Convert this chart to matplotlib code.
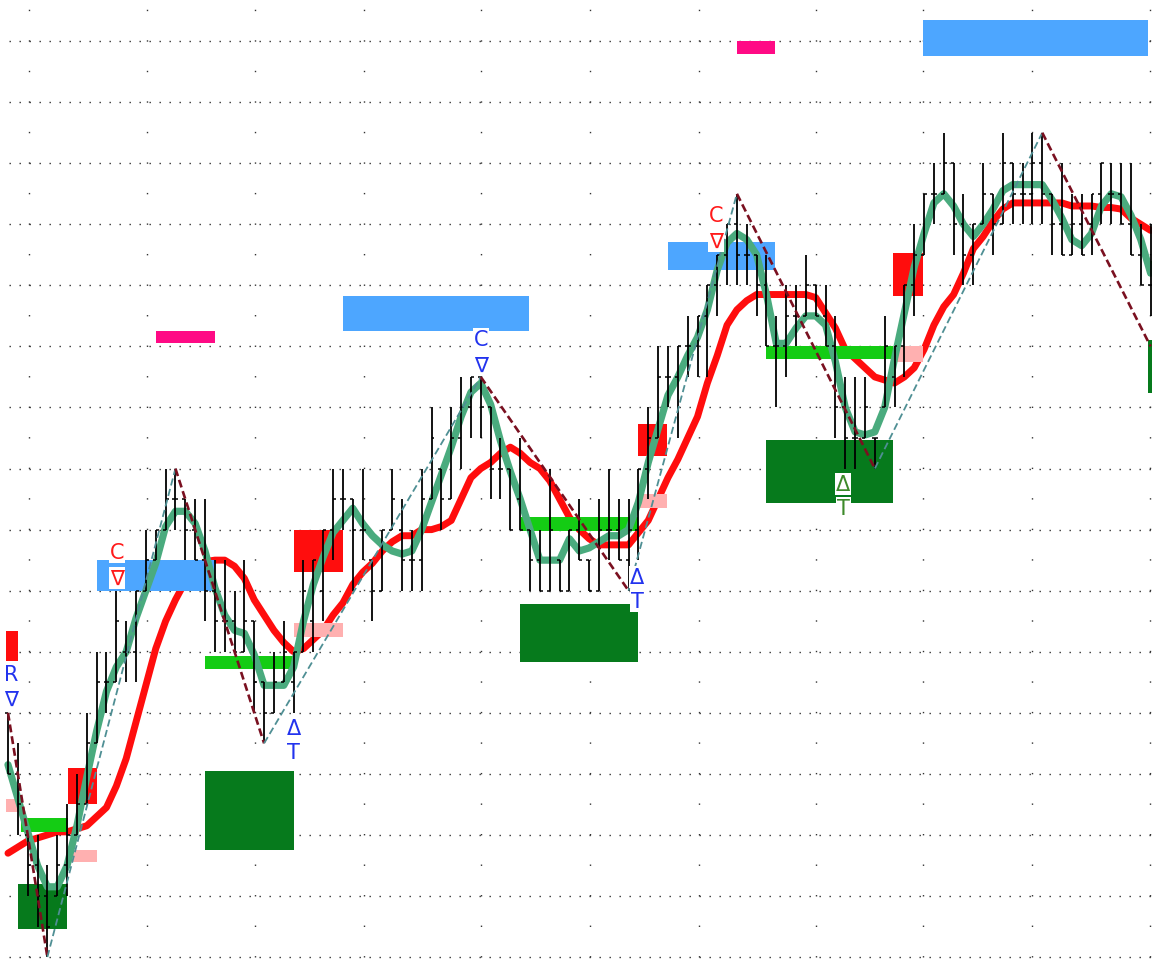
import matplotlib.pyplot as plt
from matplotlib.patches import Rectangle

# OHLC bars, price in half-grid steps
highs = [8, 7, 4, 4, 3, 4, 5, 6, 8, 10, 10, 12, 11, 12, 14, 14, 16, 16, 15, 15,
         15, 13, 13, 12, 13, 11, 9, 10, 11, 10, 13, 13, 14, 16, 16, 15, 16, 13, 14, 16,
         15, 14, 16, 18, 16, 18, 19, 19, 19, 18, 17, 16, 17, 14, 14, 16, 13, 14, 15, 13,
         15, 16, 15, 15, 16, 18, 20, 20, 20, 21, 21, 22, 23, 24, 25, 24, 23, 23, 21, 22,
         22, 23, 22, 22, 21, 19, 19, 19, 17, 21, 20, 22, 24, 25, 26, 27, 26, 25, 24, 26,
         25, 27, 26, 26, 27, 27, 25, 26, 25, 25, 25, 26, 26, 26, 26, 24, 24]
lows = [6, 4, 2, 1, 0, 2, 2, 4, 5, 7, 8, 9, 9, 9, 12, 13, 14, 14, 13, 13,
        11, 10, 10, 10, 10, 8, 7, 8, 9, 8, 10, 10, 11, 13, 14, 12, 13, 11, 12, 14,
        12, 12, 12, 15, 14, 15, 16, 17, 17, 15, 15, 14, 14, 12, 12, 12, 12, 12, 13, 12,
        12, 13, 13, 12, 13, 15, 17, 18, 17, 19, 19, 19, 21, 22, 22, 22, 21, 20, 18, 19,
        20, 21, 21, 20, 17, 16, 16, 17, 16, 18, 18, 19, 21, 23, 24, 25, 23, 22, 22, 24,
        23, 24, 24, 24, 24, 24, 23, 23, 23, 23, 23, 24, 24, 24, 23, 22, 21]
opens = [8, 6, 4, 3, 2, 2, 3, 4, 5, 7, 9, 9, 10, 10, 12, 13, 14, 15, 15, 14,
         13, 12, 11, 11, 10, 11, 9, 8, 9, 9, 10, 11, 12, 14, 15, 15, 14, 13, 12, 14,
         14, 13, 13, 15, 16, 15, 17, 18, 19, 18, 16, 16, 15, 14, 13, 12, 13, 12, 14, 13,
         12, 14, 14, 13, 14, 16, 17, 19, 19, 20, 20, 21, 22, 23, 24, 23, 23, 22, 20, 20,
         21, 21, 22, 21, 20, 18, 17, 17, 17, 18, 19, 20, 22, 23, 25, 25, 26, 24, 23, 24,
         25, 24, 26, 25, 25, 26, 25, 24, 23, 24, 24, 25, 25, 25, 24, 23, 22]
closes = [6, 5, 3, 2, 1, 3, 4, 5, 7, 9, 9, 11, 10, 12, 13, 14, 15, 15, 14, 13,
          12, 11, 11, 10, 11, 9, 8, 9, 10, 10, 12, 13, 14, 15, 15, 14, 14, 12, 14, 15,
          13, 13, 15, 17, 15, 17, 18, 19, 18, 16, 16, 14, 14, 13, 12, 14, 12, 14, 13, 12,
          14, 14, 13, 14, 16, 17, 19, 19, 20, 20, 21, 22, 23, 24, 23, 23, 22, 20, 20, 21,
          21, 22, 21, 20, 18, 17, 17, 18, 17, 20, 20, 22, 23, 25, 25, 26, 24, 23, 24, 25,
          24, 26, 25, 25, 26, 25, 24, 23, 24, 23, 25, 26, 25, 24, 23, 22, 22]

# fast and slow averages
fast_ma = [6.3, 5.2, 4.1, 3.0, 2.3, 2.3, 3.0, 4.3, 5.9, 7.4, 8.7, 9.5, 10.0, 11.1, 12.0, 12.9,
           14.1, 14.6, 14.6, 14.2, 13.3, 12.1, 11.2, 10.7, 10.6, 9.9, 8.9, 8.9, 8.9, 9.5,
           11.0, 12.2, 13.1, 13.9, 14.3, 14.7, 14.2, 13.8, 13.5, 13.3, 13.2, 13.3, 14.0,
           14.9, 15.8, 16.7, 17.7, 18.5, 18.8, 18.1, 16.9, 15.9, 15.0, 14.0, 13.0, 13.0,
           13.0, 13.7, 13.3, 13.4, 13.6, 13.8, 13.8, 14.0, 14.9, 16.2, 17.3, 18.4, 19.0,
           19.7, 20.3, 21.2, 22.5, 23.4, 23.7, 23.5, 23.0, 21.7, 20.1, 20.1, 20.6, 21.0,
           21.0, 20.7, 19.5, 18.0, 17.2, 17.1, 17.2, 18.0, 19.6, 21.1, 22.6, 23.7, 24.7,
           25.0, 24.6, 24.0, 23.6, 24.0, 24.5, 25.1, 25.3, 25.3, 25.3, 25.3, 24.8, 24.2,
           23.5, 23.3, 23.7, 24.6, 25.0, 24.9, 24.3, 23.5, 22.4]
slow_ma = [3.4, 3.6, 3.8, 3.9, 4.0, 4.1, 4.1, 4.2, 4.3, 4.6, 4.9, 5.6, 6.5, 7.7, 8.9, 10.1,
           11.0, 11.7, 12.3, 12.7, 12.95, 13.0, 13.0, 12.8, 12.4, 11.7, 11.2, 10.7, 10.3,
           10.0, 10.1, 10.4, 10.7, 11.2, 11.6, 12.2, 12.6, 12.9, 13.3, 13.6, 13.8, 13.8,
           14.0, 14.0, 14.1, 14.3, 15.0, 15.7, 16.0, 16.2, 16.5, 16.7, 16.5, 16.2, 16.0,
           15.6, 15.0, 14.4, 14.0, 13.7, 13.5, 13.5, 13.5, 13.5, 13.9, 14.3, 15.0, 15.7,
           16.3, 17.0, 17.7, 18.8, 19.7, 20.7, 21.2, 21.5, 21.7, 21.7, 21.7, 21.7, 21.7,
           21.7, 21.6, 21.1, 20.6, 19.9, 19.6, 19.3, 19.0, 18.9, 18.8, 19.0, 19.3, 19.9,
           20.7, 21.3, 21.7, 22.4, 23.2, 23.6, 24.1, 24.5, 24.7, 24.7, 24.7, 24.7, 24.7,
           24.7, 24.6, 24.6, 24.6, 24.55, 24.55, 24.5, 24.2, 24.0, 23.8]

# zigzag swing points (bar, price)
swing_bars = [0, 4, 17, 26, 48, 63, 74, 88, 105, 116]
swing_prices = [8, 0, 16, 7, 19, 12, 25, 16, 27, 20]

# zones: left bar, right bar, bottom, top
blue_zones = [(9.0, 21.0, 12.0, 13.0), (34.0, 52.9, 20.5, 21.65),
              (67.0, 77.9, 22.5, 23.42), (92.9, 115.7, 29.51, 30.69)]
magenta_zones = [(15.0, 21.0, 20.1, 20.5), (74.0, 77.9, 29.58, 30.0)]
red_zones = [(-0.2, 1.0, 9.7, 10.68), (6.1, 9.0, 5.0, 6.2), (29.0, 34.0, 12.6, 14.0),
             (64.0, 66.9, 16.4, 17.45), (89.8, 92.9, 21.65, 23.06)]
pink_zones = [(-0.2, 1.0, 4.75, 5.17), (6.1, 9.0, 3.11, 3.5), (29.0, 34.0, 10.48, 10.94),
              (64.0, 66.9, 14.7, 15.17), (89.8, 92.9, 19.5, 20.0)]
green_zones = [(1.3, 6.1, 4.1, 4.55), (20.0, 29.0, 9.43, 9.86), (52.1, 64.0, 13.95, 14.4),
               (77.0, 89.8, 19.6, 20.0), (115.7, 117.0, 22.3, 22.8)]
dkgreen_zones = [(1.0, 6.0, 0.92, 2.4), (20.0, 29.0, 3.5, 6.1), (52.0, 64.0, 9.66, 11.56),
                 (77.0, 89.8, 14.87, 16.93), (115.7, 117.0, 18.47, 20.2)]

# signal labels: bar, price, text, colour
labels = [(11.07, 13.27, "C", "#ff1a1a"), (11.07, 12.41, "\u2207", "#ff1a1a"),
          (48.0, 20.24, "C", "#2233ee"), (48.0, 19.39, "\u2207", "#2233ee"),
          (71.9, 24.3, "C", "#ff1a1a"), (71.9, 23.45, "\u2207", "#ff1a1a"),
          (29.0, 7.5, "\u0394", "#2233ee"), (29.0, 6.7, "T", "#2233ee"),
          (63.9, 12.45, "\u0394", "#2233ee"), (63.9, 11.66, "T", "#2233ee"),
          (84.8, 15.5, "\u0394", "#3d8a2a"), (84.8, 14.7, "T", "#3d8a2a"),
          (0.3, 9.27, "R", "#2233ee"), (0.3, 8.45, "\u2207", "#2233ee")]

vgrid = [2.1, 14.1, 25.1, 36.1, 48.0, 59.1, 70.2, 82.0, 92.9, 104.0, 115.9]

fig = plt.figure(figsize=(11.52, 9.62), dpi=100)
ax = fig.add_axes([0, 0, 1, 1])
ax.set_xlim(-0.81, 116.14)
ax.set_ylim(-0.13, 31.38)
ax.axis("off")

# dotted grid: dots every 10 px across, every half step down
for y in range(0, 32, 2):
    ax.plot([0.1, 117], [y, y], color="#333333", lw=1.0, linestyle=(0, (1, 6.2)), zorder=1)
for x in vgrid:
    ax.plot([x, x], [0, 31.5], color="#333333", lw=1.0, linestyle=(0, (1, 20.98)), zorder=1)

ax.plot(range(len(slow_ma)), slow_ma, color="#ff0d0d", lw=5.0, zorder=2,
        solid_joinstyle="round", solid_capstyle="round")

def add_zones(zones, color):
    for x0, x1, y0, y1 in zones:
        ax.add_patch(Rectangle((x0, y0), x1 - x0, y1 - y0, facecolor=color,
                               edgecolor="none", zorder=3))

add_zones(blue_zones, "#4da6ff")
add_zones(magenta_zones, "#ff0a85")
add_zones(red_zones, "#ff0d0d")
add_zones(pink_zones, "#ffb0b0")
add_zones(green_zones, "#14cc14")
add_zones(dkgreen_zones, "#067a1c")

ax.plot(range(len(fast_ma)), fast_ma, color="#4aab7e", lw=5.2, zorder=4,
        solid_joinstyle="round", solid_capstyle="round")

# OHLC bars
idx = list(range(len(highs)))
ax.vlines(idx, lows, highs, color="black", lw=1.3, zorder=5)
ax.hlines(opens, [i - 0.3 for i in idx], idx, color="black", lw=1.1, zorder=5)
ax.hlines(closes, idx, [i + 0.3 for i in idx], color="black", lw=1.1, zorder=5)

# zigzag legs: down legs dark red, up legs teal
for k in range(len(swing_bars) - 1):
    xs = swing_bars[k:k + 2]
    ys = swing_prices[k:k + 2]
    if ys[1] < ys[0]:
        ax.plot(xs, ys, color="#7a1020", lw=1.9, linestyle=(0, (3, 1.5)), zorder=6)
    else:
        ax.plot(xs, ys, color="#4f8f94", lw=1.3, linestyle=(0, (4, 2)), zorder=6)

for x, y, s, c in labels:
    ax.text(x, y, s, color=c, fontsize=15, ha="center", va="center", zorder=7,
            family="DejaVu Sans",
            bbox=dict(facecolor="white", edgecolor="none", pad=0.6))

fig.savefig("out.png", dpi=100)
